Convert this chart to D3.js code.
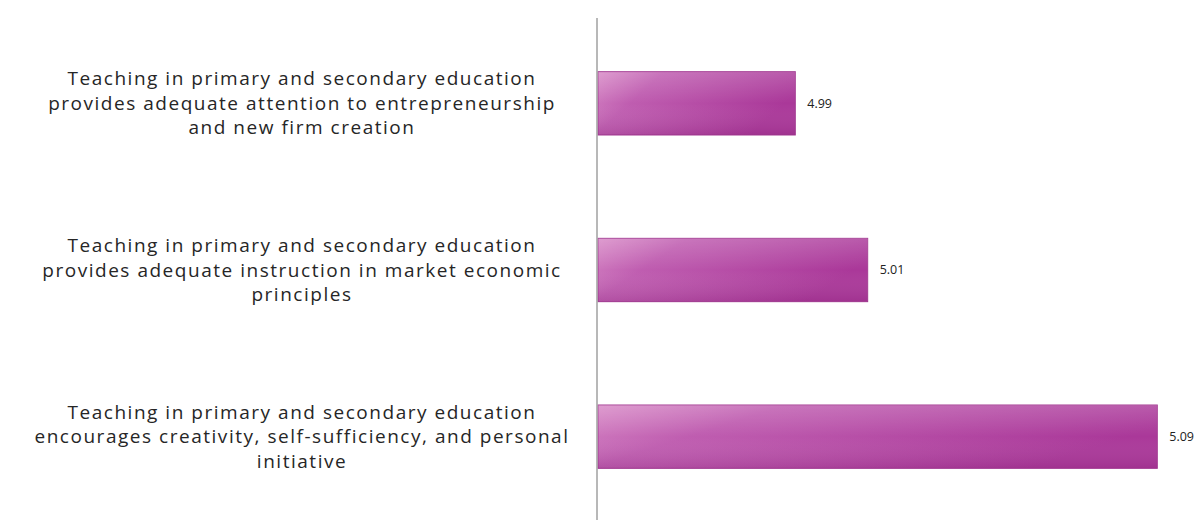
<!DOCTYPE html>
<html>
<head>
<meta charset="utf-8">
<script src="https://cdn.jsdelivr.net/npm/d3@7"></script>
<style>
  html, body { margin: 0; padding: 0; background: #ffffff; }
  svg { display: block; }
</style>
</head>
<body>
<svg id="chart" width="1204" height="528"></svg>
<script>
// Survey statements (top to bottom) and their mean scores
const statements = [
  ["Teaching in primary and secondary education", "provides adequate attention to entrepreneurship", "and new firm creation"],
  ["Teaching in primary and secondary education", "provides adequate instruction in market economic", "principles"],
  ["Teaching in primary and secondary education", "encourages creativity, self-sufficiency, and personal", "initiative"]
];
const scores = [4.99, 5.01, 5.09];
const scoreLabels = ["4.99", "5.01", "5.09"];

const svg = d3.select("#chart");
const W = 1204, H = 528;
const FONT = "'Open Sans', 'Noto Sans', sans-serif";

const axisX = 597;
const x = d3.scaleLinear().domain([4.9355, 5.10]).range([axisX + 1, axisX + 1 + 0.1645 * 3620]);
const y = d3.scaleBand().domain(d3.range(scores.length)).range([20, 520]).paddingInner(0.62).paddingOuter(0.31);

// Bar fill: glossy magenta, lighter toward the top-left
const defs = svg.append("defs");
const g1 = defs.append("linearGradient").attr("id", "barFill")
  .attr("x1", "0").attr("y1", "0").attr("x2", "1").attr("y2", "0.35");
g1.append("stop").attr("offset", "0").attr("stop-color", "#d88bc7");
g1.append("stop").attr("offset", "0.3").attr("stop-color", "#bf5db0");
g1.append("stop").attr("offset", "1").attr("stop-color", "#aa3899");

const g2 = defs.append("linearGradient").attr("id", "barShade")
  .attr("x1", "0").attr("y1", "0").attr("x2", "0").attr("y2", "1");
g2.append("stop").attr("offset", "0").attr("stop-color", "#ffffff").attr("stop-opacity", 0.15);
g2.append("stop").attr("offset", "0.5").attr("stop-color", "#ffffff").attr("stop-opacity", 0.0);
g2.append("stop").attr("offset", "1").attr("stop-color", "#6a0f5c").attr("stop-opacity", 0.15);

const bars = svg.append("g");
bars.selectAll("rect.bar")
  .data(scores)
  .join("rect")
  .attr("class", "bar")
  .attr("x", x.range()[0])
  .attr("y", (d, i) => y(i))
  .attr("width", d => x(d) - x.range()[0])
  .attr("height", y.bandwidth())
  .attr("fill", "url(#barFill)")
  .attr("stroke", "#a33a92")
  .attr("stroke-width", 1);

bars.selectAll("rect.shade")
  .data(scores)
  .join("rect")
  .attr("class", "shade")
  .attr("x", x.range()[0])
  .attr("y", (d, i) => y(i))
  .attr("width", d => x(d) - x.range()[0])
  .attr("height", y.bandwidth())
  .attr("fill", "url(#barShade)");

// Vertical category axis line
svg.append("line")
  .attr("x1", axisX).attr("x2", axisX)
  .attr("y1", 18).attr("y2", 520)
  .attr("stroke", "#a0a0a0").attr("stroke-width", 1.5);

// Value labels
svg.append("g").selectAll("text")
  .data(scores)
  .join("text")
  .attr("x", d => x(d) + 12)
  .attr("y", (d, i) => y(i) + y.bandwidth() / 2)
  .attr("dy", "0.35em")
  .attr("font-family", FONT)
  .attr("font-size", 12.5)
  .attr("fill", "#222")
  .text((d, i) => scoreLabels[i]);

// Category labels, centred, three lines each; slight letter-spacing
// widens the common first line to the label column width
const fontSize = 19;
const probe = svg.append("text").attr("font-family", FONT).attr("font-size", fontSize)
  .text(statements[0][0]);
const tracking = Math.max(0, (469 - probe.node().getComputedTextLength()) / statements[0][0].length);
probe.remove();

const lineH = 24.5;
const labels = svg.append("g");
statements.forEach((lines, i) => {
  const cy = y(i) + y.bandwidth() / 2;
  const t = labels.append("text")
    .attr("text-anchor", "middle")
    .attr("font-family", FONT)
    .attr("font-size", fontSize)
    .attr("letter-spacing", tracking)
    .attr("fill", "#262626");
  lines.forEach((ln, j) => {
    t.append("tspan")
      .attr("x", 302)
      .attr("y", cy + (j - (lines.length - 1) / 2) * lineH)
      .attr("dy", "0.35em")
      .text(ln);
  });
});
</script>
</body>
</html>
